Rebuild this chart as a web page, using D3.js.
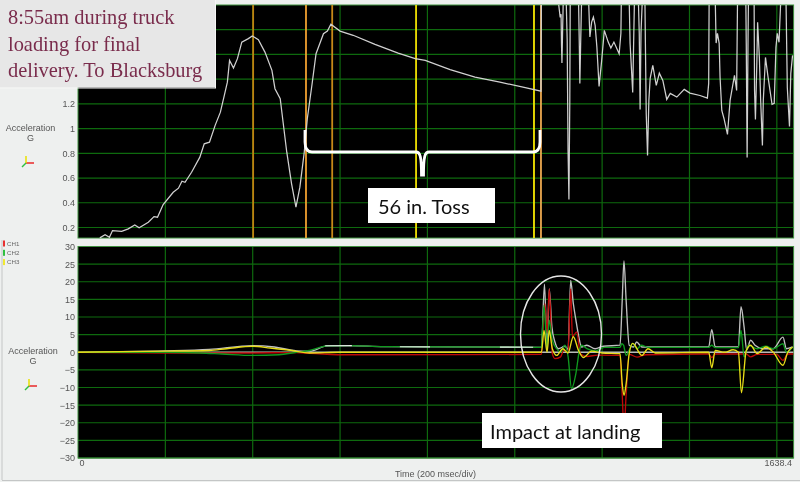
<!DOCTYPE html>
<html><head><meta charset="utf-8">
<script src="https://cdn.jsdelivr.net/npm/d3@7"></script>
<style>
html,body{margin:0;padding:0;background:#eef0ef;overflow:hidden}
svg{display:block;filter:blur(0.35px)}
text{font-family:"Liberation Sans",Arial,sans-serif}
</style></head><body>
<svg id="c" width="800" height="482"></svg>
<script>
const timeTicks=[200,400,600,800,1000,1200,1400,1600];
const topTicks=[0.2,0.4,0.6,0.8,1,1.2,1.4,1.6,1.8];
const topTickLabels=[0.2,0.4,0.6,0.8,1,1.2];
const bottomTicks=[-30,-25,-20,-15,-10,-5,0,5,10,15,20,25,30];
const markerTimes=[401,522,582,774,1044,1060];
const markerColors=["#c08010","#f0a030","#c88818","#f0e000","#f6e800","#eca850"];
const legendNames=["CH1","CH2","CH3"];
const legendColors=["#e83030","#30c040","#f0e830"];
const resultant=[[0,.1],[200,.4],[300,.8],[400,1.9],[450,1.5],[500,.4],[530,.3],[570,1.8],[620,1.9],[700,1.6],[1061,1.4],[1068,19.3],[1074,1.1],[1079,18],[1085,7.2],[1092,2.9],[1100,1],[1115,1.7],[1122,.8],[1128,20.4],[1134,13.9],[1140,9.1],[1146,4.8],[1153,1.5],[1165,2],[1184,1],[1203,1.7],[1241,2],[1246,14.7],[1250,25.9],[1255,14.7],[1262,2],[1272,1.5],[1279,2.9],[1291,1.5],[1444,1.5],[1451,6.4],[1459,1.5],[1512,1.5],[1518,12.9],[1525,7.2],[1531,.6],[1540,3.4],[1550,2],[1569,1],[1592,1],[1614,4.3],[1622,1],[1636,1.5]];
const whiteStretches=[[[566,1.85],[627,1.9]],[[737,1.56],[806,1.52]],[[966,1.45],[1042,1.42]]];
const ch1=[[0,0],[200,-.2],[400,-.2],[500,-.1],[530,-.3],[560,-.5],[600,-.7],[1061,-.6],[1069,13.8],[1074,5.4],[1079,18],[1086,-.4],[1092,-1.8],[1105,-1.3],[1112,.6],[1122,0],[1128,18],[1132,4.4],[1142,5.8],[1150,-.4],[1165,-1.2],[1190,-.8],[1241,-.9],[1246,-12],[1250,-22],[1255,-12],[1262,-.6],[1280,-1.4],[1300,-.7],[1444,-.5],[1451,-1.5],[1459,-.5],[1530,-.5],[1540,-1.3],[1555,-.6],[1600,-.6],[1614,-2.3],[1625,-.5],[1638,-.5]];
const ch2=[[0,0],[200,0],[280,-.2],[330,-.5],[400,-.9],[460,-.7],[500,0],[530,.5],[570,1.8],[620,1.9],[700,1.6],[1061,1.4],[1067,13.3],[1074,1],[1079,9.1],[1086,3.4],[1096,1],[1105,0],[1115,2],[1122,-1.2],[1130,-10.3],[1140,-6],[1148,.5],[1153,2],[1165,1],[1185,.4],[1205,1.4],[1241,1.4],[1245,2.4],[1249,2],[1255,-.9],[1262,.6],[1270,2.5],[1280,1],[1290,2],[1305,1.4],[1444,1.4],[1451,2],[1459,1.3],[1512,1.3],[1518,6.2],[1525,-1.3],[1535,2],[1555,1],[1575,1.7],[1592,1],[1614,2.4],[1622,0],[1636,1.5]];
const ch3=[[0,0],[200,.3],[300,.5],[340,1],[400,1.7],[440,1.2],[490,.5],[530,-.2],[600,0],[1061,0],[1067,6.2],[1074,0],[1079,6.2],[1086,1],[1096,-.9],[1110,1],[1122,-.2],[1134,4.4],[1146,.5],[1157,-1.5],[1176,.3],[1200,-.2],[1241,-.4],[1246,-8.9],[1250,-12.2],[1255,-8.9],[1262,-.4],[1270,2.5],[1291,-.9],[1305,1],[1322,-.2],[1444,0],[1451,-4.4],[1459,.5],[1480,0],[1500,.7],[1512,0],[1519,-11.5],[1530,.5],[1540,2],[1555,-.4],[1575,1.5],[1592,0],[1614,-3.7],[1625,0],[1636,1.5]];
const topSeries=[[50,.116],[62,.142],[72,.121],[79,.175],[100,.169],[115,.189],[130,.221],[140,.197],[161,.242],[174,.288],[182,.283],[195,.386],[218,.485],[230,.518],[238,.574],[245,.566],[260,.647],[279,.769],[289,.877],[301,.89],[314,1.026],[326,1.133],[335,1.269],[342,1.376],[347,1.552],[356,1.49],[365,1.566],[375,1.7],[390,1.728],[399,1.749],[413,1.72],[428,1.619],[444,1.471],[451,1.323],[463,1.242],[470,1.039],[478,.809],[489,.553],[499,.364],[508,.526],[518,.809],[525,1.08],[536,1.363],[545,1.606],[562,1.768],[571,1.789],[579,1.844],[600,1.789],[630,1.755],[680,1.682],[733,1.611],[772,1.566],[795,1.552],[852,1.477],[909,1.417],[966,1.376],[1024,1.331],[1060,1.303],[1061,2.1],[1099,2.05],[1104,1.9],[1106,1.925],[1107,1.68],[1108,1.53],[1111,2.04],[1115,2.04],[1118,2],[1120,1.714],[1122,.823],[1124,.426],[1126,1.228],[1127,2.04],[1146,2.04],[1148,1.63],[1149,1.366],[1151,1.714],[1153,2.04],[1169,2.04],[1172,1.741],[1176,1.862],[1180,1.903],[1184,1.835],[1188,1.66],[1193,1.341],[1199,1.552],[1205,1.795],[1214,1.7],[1220,1.652],[1227,1.7],[1239,1.606],[1243,1.771],[1244,2.04],[1262,2.04],[1264,1.69],[1267,1.495],[1270,1.293],[1274,2.04],[1283,2.04],[1285,1.771],[1287,1.155],[1289,1.771],[1292,2.04],[1298,2.04],[1299,1.714],[1301,1.123],[1304,.782],[1307,1.228],[1310,1.406],[1316,1.511],[1324,1.35],[1331,1.449],[1339,1.39],[1348,1.236],[1356,1.285],[1371,1.255],[1388,1.317],[1401,1.287],[1424,1.268],[1441,1.247],[1444,1.366],[1445,2.04],[1459,2.04],[1461,1.692],[1464,1.771],[1468,1.69],[1470,1.417],[1474,1.147],[1479,1.082],[1487,.953],[1493,1.228],[1503,1.43],[1508,1.309],[1510,2.04],[1529,2.04],[1530,1.69],[1532,.766],[1534,1.69],[1535,2.04],[1548,2.04],[1549,1.309],[1551,1.074],[1554,1.495],[1556,1.86],[1560,1.576],[1563,1.228],[1567,.863],[1569,1.228],[1574,1.576],[1580,1.414],[1589,1.196],[1594,1.204],[1598,1.657],[1601,1.771],[1605,1.698],[1609,2.04],[1621,2.04],[1624,1.333],[1629,1.017],[1632,1.447],[1636,1.592]];

const svg=d3.select("#c");
const x=d3.scaleLinear().domain([0,1638.4]).range([78,793.6]);
const yT=d3.scaleLinear().domain([0.115,2]).range([238,5]);
const yB=d3.scaleLinear().domain([-30,30]).range([458,246.5]);
const GRID="#0e6a0e";

svg.append("rect").attr("width",800).attr("height",482).attr("fill","#eef0ef");
svg.append("line").attr("x1",2).attr("x2",2).attr("y1",240).attr("y2",480).attr("stroke","#c4c6c6");
svg.append("line").attr("x1",2).attr("x2",800).attr("y1",480.5).attr("y2",480.5).attr("stroke","#c4c6c6");

function panel(id,y,hTicks,labels,fmt){
  const [b,t]=y.range();
  svg.append("defs").append("clipPath").attr("id",id).append("rect")
    .attr("x",x.range()[0]).attr("y",t).attr("width",x.range()[1]-x.range()[0]).attr("height",b-t);
  svg.append("rect").attr("x",x.range()[0]).attr("y",t).attr("width",x.range()[1]-x.range()[0]).attr("height",b-t)
    .attr("fill","#000");
  const g=svg.append("g");
  g.append("g").selectAll("line").data(timeTicks).join("line")
    .attr("x1",x).attr("x2",x).attr("y1",t).attr("y2",b).attr("stroke",GRID).attr("stroke-width",1.2);
  g.append("g").selectAll("line").data(hTicks).join("line")
    .attr("x1",x.range()[0]).attr("x2",x.range()[1]).attr("y1",y).attr("y2",y).attr("stroke",GRID).attr("stroke-width",1.2);
  svg.append("rect").attr("x",x.range()[0]).attr("y",t).attr("width",x.range()[1]-x.range()[0]).attr("height",b-t)
    .attr("fill","none").attr("stroke","#3f8f3f").attr("stroke-width",1);
  const ax=svg.append("g").attr("transform",`translate(${x.range()[0]-2},0)`)
    .call(d3.axisLeft(y).tickValues(labels).tickSize(0).tickFormat(fmt));
  ax.select(".domain").remove();
  ax.selectAll("text").attr("fill","#555").attr("font-size",9).attr("font-family",'"Liberation Sans",Arial,sans-serif').attr("x",-1);
  return svg.append("g").attr("clip-path",`url(#${id})`);
}

const pT=panel("clipT",yT,topTicks,topTickLabels,d=>d3.format("~g")(d));
const pB=panel("clipB",yB,bottomTicks,bottomTicks,d=>d3.format("d")(d));

pT.selectAll("line.m").data(markerTimes).join("line").attr("class","m")
  .attr("x1",x).attr("x2",x).attr("y1",5).attr("y2",238)
  .attr("stroke",(d,i)=>markerColors[i]).attr("stroke-width",1.8);
pT.append("path").datum(topSeries)
  .attr("d",d3.line().x(d=>x(d[0])).y(d=>yT(d[1])))
  .attr("fill","none").attr("stroke","#d0d0d0").attr("stroke-width",1.25);

const lineB=d3.line().x(d=>x(d[0])).y(d=>yB(d[1])).curve(d3.curveMonotoneX);
pB.append("line").attr("x1",x(0)).attr("x2",x(1638.4)).attr("y1",yB(0)).attr("y2",yB(0)).attr("stroke","#b8b8b8").attr("stroke-width",1.4);
[[resultant,"#c0c0c0"],[ch1,"#c00808"],[ch2,"#109a20"],[ch3,"#e8dc18"]].forEach(([d,c])=>{
  pB.append("path").datum(d).attr("d",lineB).attr("fill","none").attr("stroke",c).attr("stroke-width",1.35);
});
pB.selectAll("path.w").data(whiteStretches).join("path").attr("class","w")
  .attr("d",lineB).attr("fill","none").attr("stroke","#e8e8e8").attr("stroke-width",1.2);

// side labels
function sideLabel(cx,y0){
  svg.append("text").attr("x",cx).attr("y",y0).attr("text-anchor","middle").attr("font-size",9).attr("fill","#555").text("Acceleration");
  svg.append("text").attr("x",cx).attr("y",y0+9.5).attr("text-anchor","middle").attr("font-size",9).attr("fill","#555").text("G");
}
sideLabel(30.5,131); sideLabel(33,354);
function triad(cx,cy){
  svg.append("line").attr("x1",cx).attr("y1",cy).attr("x2",cx+8).attr("y2",cy).attr("stroke","#e82828").attr("stroke-width",1.5);
  svg.append("line").attr("x1",cx).attr("y1",cy).attr("x2",cx).attr("y2",cy-7).attr("stroke","#e8e000").attr("stroke-width",1.5);
  svg.append("line").attr("x1",cx).attr("y1",cy).attr("x2",cx-4).attr("y2",cy+4).attr("stroke","#30c040").attr("stroke-width",1.5);
}
triad(26,163); triad(29,386);

legendNames.forEach((n,i)=>{
  const yy=243.5+i*9.3;
  svg.append("rect").attr("x",3).attr("y",yy-3).attr("width",2).attr("height",6).attr("fill",legendColors[i]);
  svg.append("text").attr("x",7).attr("y",yy+2.2).attr("font-size",6.2).attr("fill","#666").text(n);
});

svg.append("text").attr("x",79.5).attr("y",466).attr("font-size",9).attr("fill","#555").text("0");
svg.append("text").attr("x",792).attr("y",466).attr("text-anchor","end").attr("font-size",9).attr("fill","#555").text("1638.4");
svg.append("text").attr("x",435.5).attr("y",477).attr("text-anchor","middle").attr("font-size",9).attr("fill","#555").text("Time (200 msec/div)");

// annotations
svg.append("path").attr("d","M305 130 L305 142 C305 149 307 152 312 152 L416 152 C420 152 421.5 156 421.5 175 L423.5 175 C423.5 156 425 152 429 152 L533 152 C538 152 540 149 540 142 L540 130")
  .attr("fill","none").attr("stroke","#fff").attr("stroke-width",2.8);
svg.append("ellipse").attr("cx",561).attr("cy",334).attr("rx",40.5).attr("ry",58)
  .attr("fill","none").attr("stroke","#e6e6e6").attr("stroke-width",1.4);

svg.append("rect").attr("x",368).attr("y",188).attr("width",127).attr("height",35).attr("fill","#fff");
svg.append("text").attr("x",378).attr("y",214).attr("font-size",20).attr("fill","#111")
  .style("font-family","Lato,'Open Sans',sans-serif").text("56 in. Toss");
svg.append("rect").attr("x",482).attr("y",413).attr("width",180).attr("height",35).attr("fill","#fff");
svg.append("text").attr("x",490).attr("y",439).attr("font-size",20).attr("fill","#111")
  .style("font-family","Lato,'Open Sans',sans-serif").text("Impact at landing");

svg.append("rect").attr("x",0).attr("y",0).attr("width",215).attr("height",87.5).attr("fill","#e7e7e7");
svg.append("rect").attr("x",215).attr("y",0).attr("width",1).attr("height",88).attr("fill","#f6f6f6");
svg.append("rect").attr("x",0).attr("y",87.5).attr("width",216).attr("height",1).attr("fill","#f6f6f6");
["8:55am during truck","loading for final","delivery. To Blacksburg"].forEach((s,i)=>{
  svg.append("text").attr("x",8).attr("y",24+i*26.6).attr("font-size",20.4).attr("fill","#7a2c4c")
    .style("font-family","'Liberation Serif',serif").text(s);
});
</script>
</body></html>
